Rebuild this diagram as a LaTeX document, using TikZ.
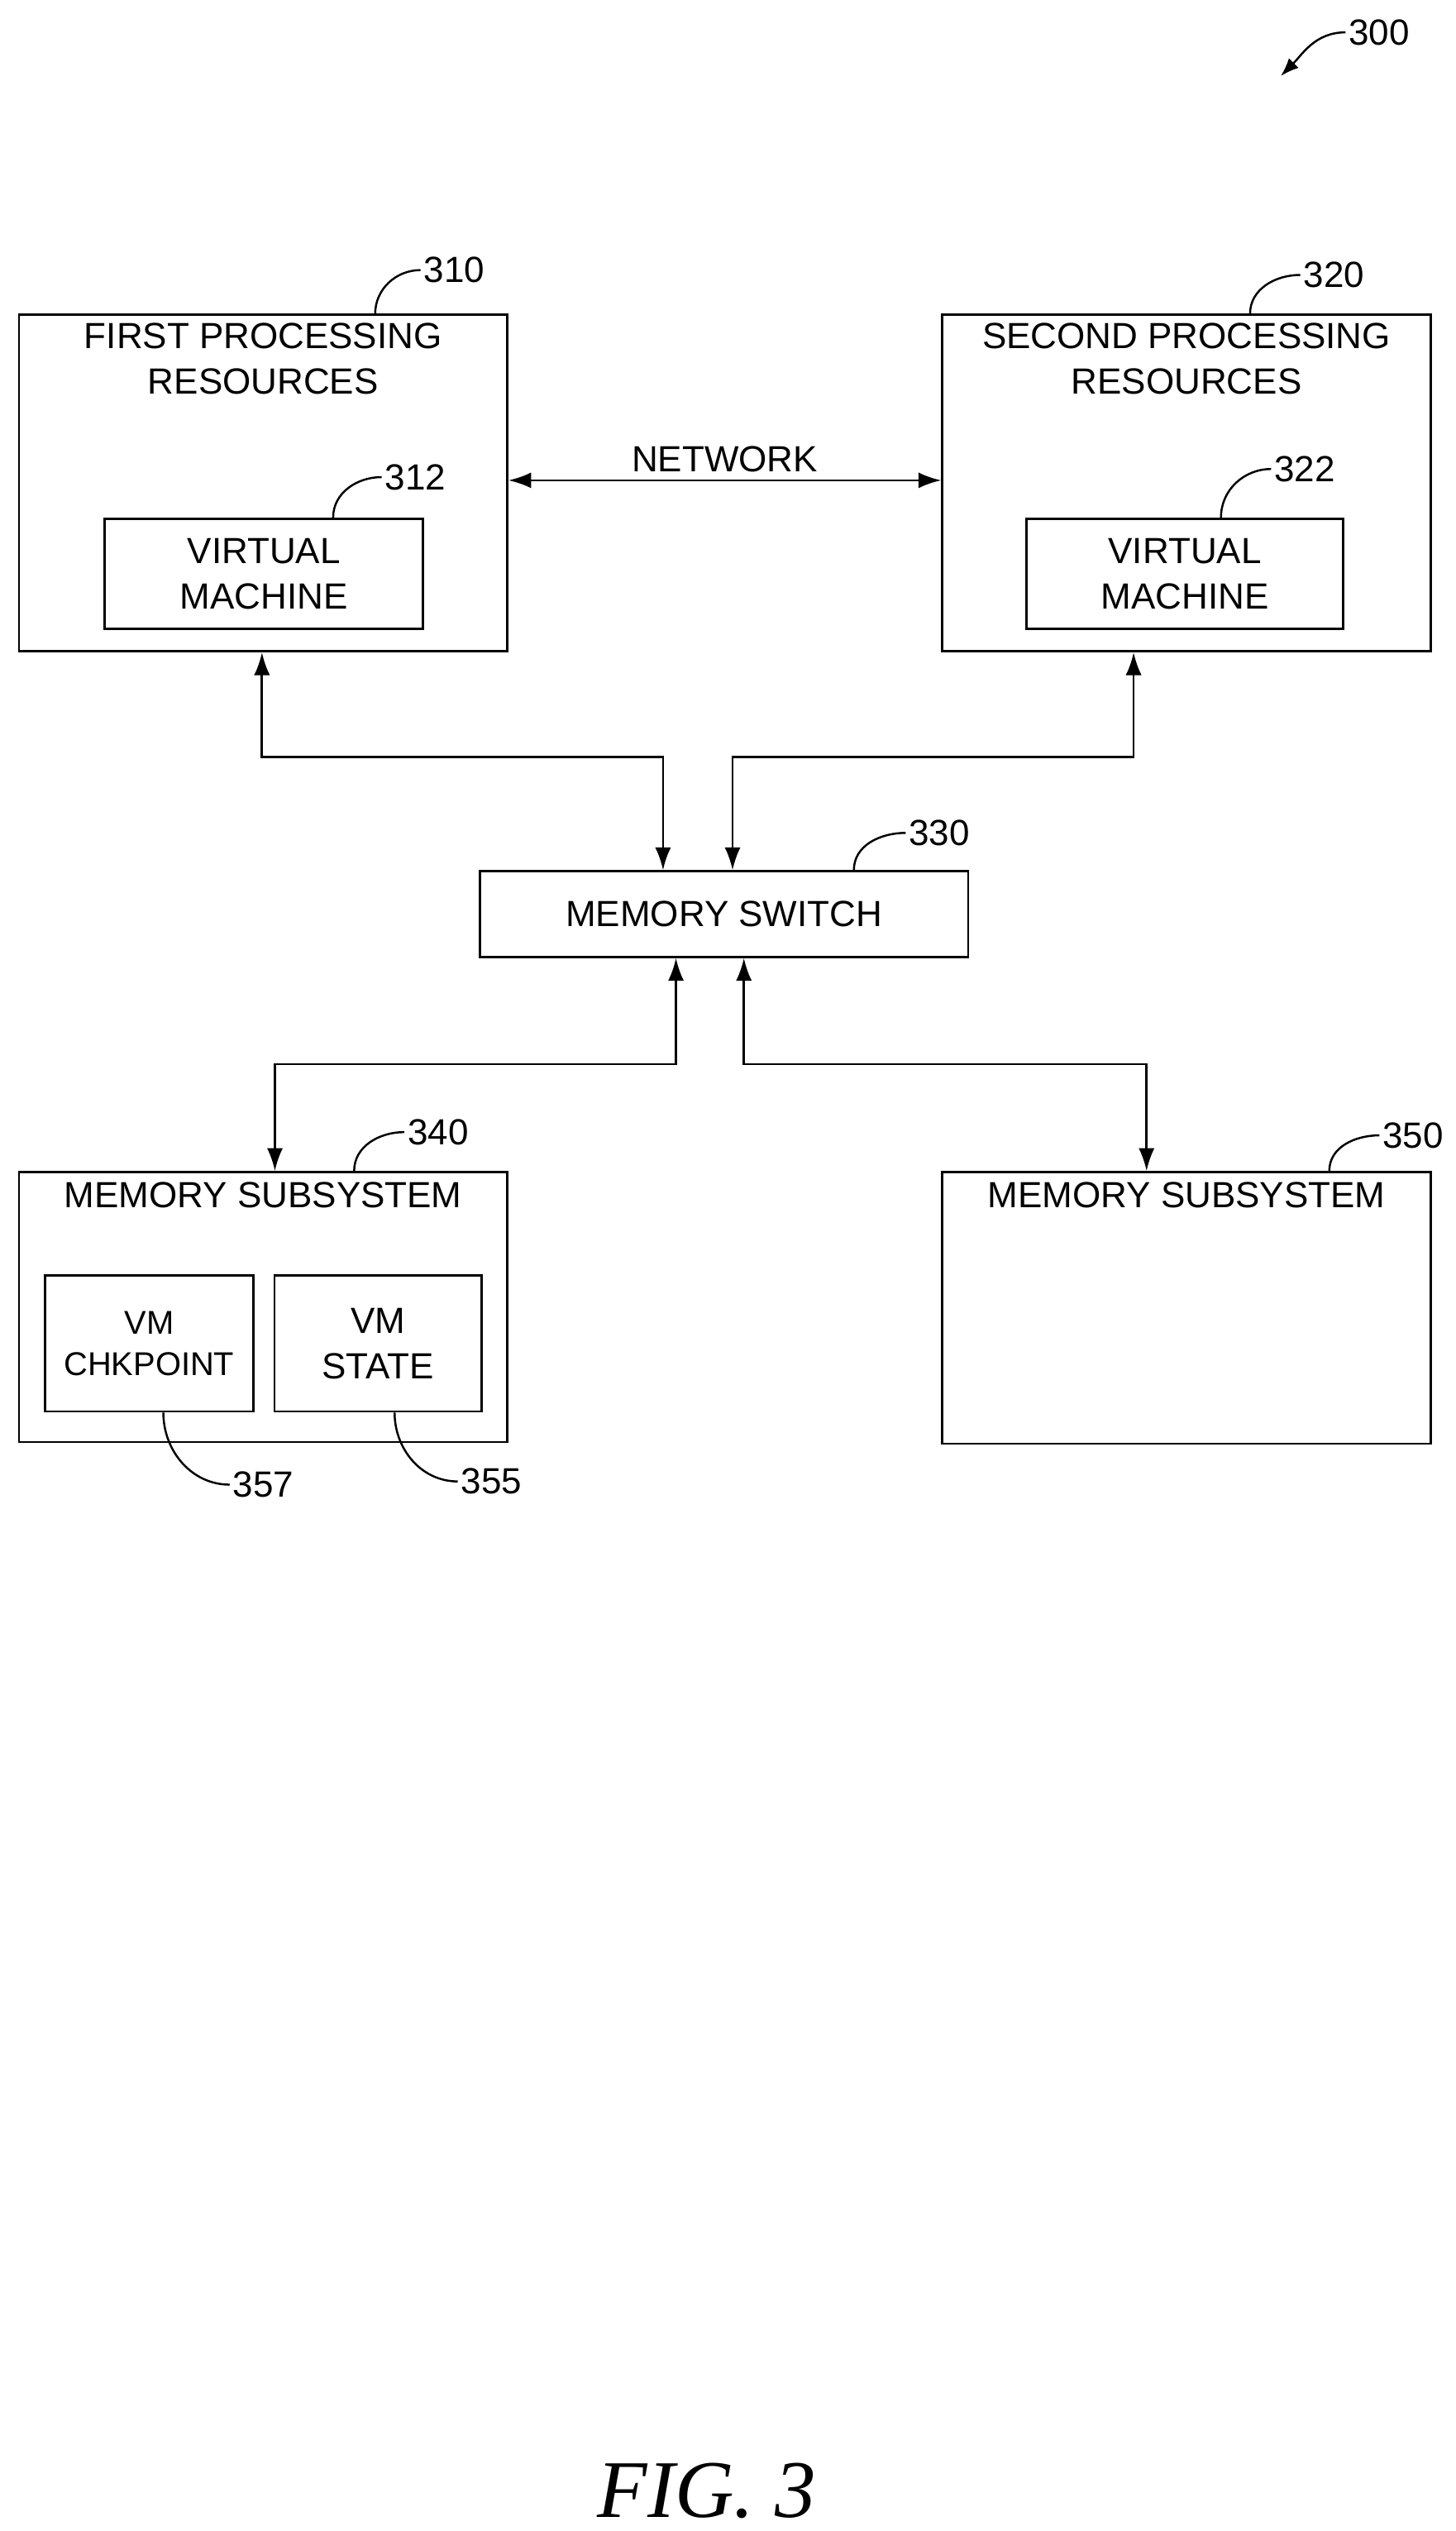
\documentclass[tikz,border=0pt]{standalone}
\usepackage{fontspec}
\setmainfont{Liberation Sans}
\newfontfamily\figfont{Liberation Serif}
\usetikzlibrary{positioning, arrows.meta}

\begin{document}
\begin{tikzpicture}[
		x=0.05cm, y=-0.05cm,
		>={Latex[length=20pt,width=14pt]},
		line width=2pt,
		font=\fontsize{32}{40}\selectfont,
		box/.style={
				draw,
				rectangle,
				align=center,
				inner sep=0pt
			},
		title/.style={
				anchor=north,
				align=center,
				yshift=-0.15cm
			},
		refnum/.style={
				anchor=west,
				inner sep=2pt
			},
		leader/.style={
				line width=1.8pt
			}
	]
	\useasboundingbox (0,0) rectangle (900,1565);

	% Boxes
	\node[box, minimum width=302*0.05cm, minimum height=208*0.05cm, anchor=north west] (first) at (11,194) {};
	\node[title] at (first.north) {FIRST PROCESSING\\RESOURCES};
	\node[box, minimum width=197*0.05cm, minimum height=68*0.05cm, anchor=north west, name=vm1] at (64,320) {VIRTUAL\\MACHINE};

	\node[box, minimum width=302*0.05cm, minimum height=208*0.05cm, anchor=north west] (second) at (582,194) {};
	\node[title] at (second.north) {SECOND PROCESSING\\RESOURCES};
	\node[box, minimum width=196*0.05cm, minimum height=68*0.05cm, anchor=north west, name=vm2] at (634,320) {VIRTUAL\\MACHINE};

	\node[box, minimum width=302*0.05cm, minimum height=53*0.05cm, anchor=north west, name=switch] at (296,538) {MEMORY SWITCH};

	\node[box, minimum width=302*0.05cm, minimum height=167*0.05cm, anchor=north west] (mem1) at (11,724) {};
	\node[title] at (mem1.north) [yshift=-0.05cm] {MEMORY SUBSYSTEM};
	\node[box, minimum width=129*0.05cm, minimum height=84*0.05cm, anchor=north west, name=chk, font=\fontsize{29}{36}\selectfont] at (27,788) {VM\\CHKPOINT};
	\node[box, minimum width=128*0.05cm, minimum height=84*0.05cm, anchor=north west, name=state] at (169,788) {VM\\STATE};

	\node[box, minimum width=302*0.05cm, minimum height=168*0.05cm, anchor=north west] (mem2) at (582,724) {};
	\node[title] at (mem2.north) [yshift=-0.05cm] {MEMORY SUBSYSTEM};

	% Connectors
	\draw[<->] (first.east |- 0,297) -- node[above=0.1cm] {NETWORK} (second.west |- 0,297);
	\draw[<->] (first.south -| 162,0) |- (410,468) -- (switch.north -| 410,0);
	\draw[<->] (second.south -| 701,0) |- (453,468) -- (switch.north -| 453,0);
	\draw[<->] (switch.south -| 418,0) |- (170,658) -- (mem1.north -| 170,0);
	\draw[<->] (switch.south -| 460,0) |- (709,658) -- (mem2.north -| 709,0);

	% Reference numerals
	\node[refnum] (n300) at (832,20) {300};
	\draw[leader, ->, >={Latex[length=16pt,width=12pt]}] (n300.west) to[out=180,in=45] (792,47);
	\node[refnum] (n310) at (260,167) {310};
	\draw[leader] (232,194) to[out=90,in=180] (n310.west);
	\node[refnum] (n312) at (236,295) {312};
	\draw[leader] (206,320) to[out=90,in=180] (n312.west);
	\node[refnum] (n320) at (804,170) {320};
	\draw[leader] (773,194) to[out=90,in=180] (n320.west);
	\node[refnum] (n322) at (786,290) {322};
	\draw[leader] (755,320) to[out=90,in=180] (n322.west);
	\node[refnum] (n330) at (560,515) {330};
	\draw[leader] (528,538) to[out=90,in=180] (n330.west);
	\node[refnum] (n340) at (250,700) {340};
	\draw[leader] (219,724) to[out=90,in=180] (n340.west);
	\node[refnum] (n350) at (853,702) {350};
	\draw[leader] (822,724) to[out=90,in=180] (n350.west);
	\node[refnum] (n357) at (142,918) {357};
	\draw[leader] (chk.south -| 101,0) to[out=-90,in=180] (n357.west);
	\node[refnum] (n355) at (283,916) {355};
	\draw[leader] (state.south -| 244,0) to[out=-90,in=180] (n355.west);

	\node[font=\figfont\itshape\fontsize{72}{80}\selectfont] (fig) at (437,1540) {FIG. 3};
\end{tikzpicture}
\end{document}
